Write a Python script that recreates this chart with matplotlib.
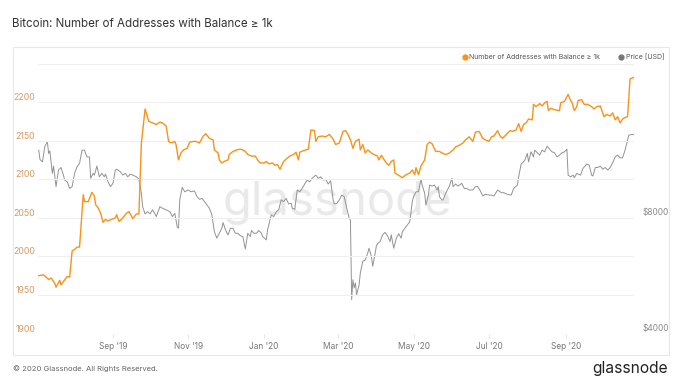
import pandas as pd
import matplotlib
matplotlib.use("Agg")
from matplotlib import pyplot as plt
import matplotlib.dates as mdates
from matplotlib.lines import Line2D
from matplotlib.patches import Rectangle
from matplotlib.ticker import FixedLocator, FuncFormatter, NullLocator

plt.rcParams['font.family'] = ['Inter', 'DejaVu Sans']

# addresses with balance >= 1k (left axis)
addr_dates = [
 '2019-07-03','2019-07-07','2019-07-11','2019-07-13','2019-07-16','2019-07-17','2019-07-20','2019-07-21','2019-07-26','2019-07-28','2019-07-30',
 '2019-08-01','2019-08-03','2019-08-05','2019-08-08','2019-08-09','2019-08-12','2019-08-15','2019-08-17','2019-08-18','2019-08-20','2019-08-22','2019-08-24','2019-08-26','2019-08-28','2019-08-31',
 '2019-09-03','2019-09-04','2019-09-06','2019-09-09','2019-09-12','2019-09-14','2019-09-17','2019-09-20','2019-09-22','2019-09-24','2019-09-27','2019-09-30',
 '2019-10-03','2019-10-06','2019-10-09','2019-10-11','2019-10-14','2019-10-16','2019-10-18','2019-10-21','2019-10-22','2019-10-24','2019-10-26','2019-10-28','2019-10-31',
 '2019-11-02','2019-11-05','2019-11-07','2019-11-10','2019-11-13','2019-11-15','2019-11-18','2019-11-21','2019-11-22','2019-11-25','2019-11-26','2019-11-28','2019-11-30',
 '2019-12-03','2019-12-04','2019-12-07','2019-12-10','2019-12-13','2019-12-15','2019-12-17','2019-12-19','2019-12-22','2019-12-25','2019-12-27','2019-12-29',
 '2020-01-01','2020-01-03','2020-01-05','2020-01-08','2020-01-10','2020-01-12','2020-01-14','2020-01-17','2020-01-19','2020-01-22','2020-01-25','2020-01-27','2020-01-29','2020-01-30',
 '2020-02-02','2020-02-04','2020-02-06','2020-02-08','2020-02-11','2020-02-12','2020-02-14','2020-02-17','2020-02-20','2020-02-23','2020-02-26','2020-02-28',
 '2020-03-02','2020-03-05','2020-03-07','2020-03-09','2020-03-11','2020-03-13','2020-03-15','2020-03-18','2020-03-19','2020-03-21','2020-03-23','2020-03-25','2020-03-28','2020-03-30',
 '2020-04-02','2020-04-03','2020-04-05','2020-04-07','2020-04-09','2020-04-11','2020-04-13','2020-04-15','2020-04-16','2020-04-18','2020-04-22','2020-04-25','2020-04-28','2020-04-30',
 '2020-05-02','2020-05-03','2020-05-05','2020-05-07','2020-05-10','2020-05-12','2020-05-14','2020-05-16','2020-05-19','2020-05-22','2020-05-24','2020-05-27','2020-05-30',
 '2020-06-02','2020-06-04','2020-06-07','2020-06-10','2020-06-12','2020-06-15','2020-06-18','2020-06-20','2020-06-23','2020-06-26','2020-06-28',
 '2020-07-01','2020-07-03','2020-07-05','2020-07-08','2020-07-10','2020-07-12','2020-07-15','2020-07-18','2020-07-20','2020-07-23','2020-07-25','2020-07-27','2020-07-29','2020-07-31',
 '2020-08-02','2020-08-05','2020-08-06','2020-08-08','2020-08-11','2020-08-13','2020-08-15','2020-08-17','2020-08-18','2020-08-20','2020-08-23','2020-08-27','2020-08-28','2020-08-31',
 '2020-09-03','2020-09-05','2020-09-06','2020-09-08','2020-09-10','2020-09-11','2020-09-14','2020-09-16','2020-09-19','2020-09-22','2020-09-24','2020-09-26','2020-09-29',
 '2020-10-02','2020-10-04','2020-10-07','2020-10-09','2020-10-11','2020-10-13','2020-10-15','2020-10-17','2020-10-19','2020-10-21','2020-10-22','2020-10-23','2020-10-26']
addr_values = [
 1975,1976,1970,1972,1965,1960,1969,1963,1974,1973,2007,
 2009,2012,2012,2080,2071,2071,2083,2078,2067,2063,2056,2044,2048,2046,2048,
 2050,2054,2045,2050,2056,2058,2049,2055,2055,2147,2191,2175,
 2173,2171,2174,2173,2169,2149,2147,2149,2145,2125,2134,2138,2140,
 2148,2149,2149,2147,2156,2159,2153,2151,2138,2134,2125,2121,2123,
 2125,2132,2136,2138,2139,2138,2136,2132,2130,2130,2125,2121,
 2121,2123,2120,2121,2118,2119,2113,2123,2126,2130,2132,2135,2125,2135,
 2137,2138,2139,2164,2163,2149,2155,2156,2155,2158,2152,2145,
 2147,2162,2163,2158,2151,2140,2149,2152,2138,2145,2134,2138,2134,2132,
 2130,2125,2131,2126,2121,2118,2123,2125,2108,2106,2102,2106,2108,2112,
 2106,2115,2106,2117,2125,2145,2148,2146,2136,2136,2134,2132,2134,
 2138,2142,2144,2147,2151,2155,2149,2161,2162,2153,2151,
 2149,2155,2156,2163,2156,2153,2158,2163,2162,2164,2172,2162,2171,2173,
 2178,2177,2197,2194,2198,2195,2199,2201,2189,2192,2190,2189,2199,2201,
 2210,2202,2200,2189,2194,2202,2203,2197,2197,2194,2191,2194,2195,
 2181,2184,2182,2186,2177,2181,2173,2178,2180,2181,2203,2230,2232]

# btc price in usd (right axis, log)
price_dates = [
 '2019-07-03','2019-07-04','2019-07-06','2019-07-08','2019-07-10','2019-07-11','2019-07-12','2019-07-14','2019-07-15','2019-07-17','2019-07-19','2019-07-21','2019-07-23','2019-07-24','2019-07-26','2019-07-28','2019-07-30',
 '2019-08-01','2019-08-03','2019-08-05','2019-08-07','2019-08-09','2019-08-11','2019-08-13','2019-08-14','2019-08-16','2019-08-17','2019-08-19','2019-08-21','2019-08-23','2019-08-25','2019-08-26','2019-08-28','2019-08-30',
 '2019-09-01','2019-09-03','2019-09-04','2019-09-07','2019-09-09','2019-09-11','2019-09-13','2019-09-15','2019-09-17','2019-09-20','2019-09-22','2019-09-24','2019-09-25','2019-09-27','2019-09-29',
 '2019-10-01','2019-10-03','2019-10-05','2019-10-06','2019-10-09','2019-10-11','2019-10-14','2019-10-17','2019-10-19','2019-10-21','2019-10-22','2019-10-23','2019-10-24','2019-10-25','2019-10-27','2019-10-29',
 '2019-11-01','2019-11-03','2019-11-06','2019-11-08','2019-11-10','2019-11-12','2019-11-15','2019-11-18','2019-11-20','2019-11-21','2019-11-22','2019-11-24','2019-11-26','2019-11-28','2019-11-29',
 '2019-12-01','2019-12-03','2019-12-05','2019-12-07','2019-12-09','2019-12-11','2019-12-13','2019-12-15','2019-12-17','2019-12-19','2019-12-21','2019-12-22','2019-12-24','2019-12-26','2019-12-28','2019-12-30','2019-12-31',
 '2020-01-03','2020-01-04','2020-01-05','2020-01-07','2020-01-09','2020-01-11','2020-01-13','2020-01-15','2020-01-17','2020-01-19','2020-01-21','2020-01-23','2020-01-24','2020-01-26','2020-01-28','2020-01-30',
 '2020-02-01','2020-02-03','2020-02-05','2020-02-07','2020-02-09','2020-02-12','2020-02-14','2020-02-16','2020-02-18','2020-02-20','2020-02-22','2020-02-24','2020-02-26','2020-02-27','2020-02-29',
 '2020-03-02','2020-03-04','2020-03-06','2020-03-08','2020-03-10','2020-03-11','2020-03-12','2020-03-13','2020-03-14','2020-03-15','2020-03-16','2020-03-18','2020-03-19','2020-03-21','2020-03-23','2020-03-25','2020-03-26','2020-03-28','2020-03-29','2020-03-31',
 '2020-04-01','2020-04-02','2020-04-04','2020-04-06','2020-04-08','2020-04-10','2020-04-12','2020-04-13','2020-04-15','2020-04-17','2020-04-19','2020-04-21','2020-04-22','2020-04-24','2020-04-26','2020-04-28','2020-04-30',
 '2020-05-01','2020-05-03','2020-05-05','2020-05-07','2020-05-08','2020-05-10','2020-05-11','2020-05-13','2020-05-14','2020-05-16','2020-05-18','2020-05-20','2020-05-21','2020-05-22','2020-05-24','2020-05-25','2020-05-27','2020-05-29','2020-05-30',
 '2020-06-01','2020-06-02','2020-06-04','2020-06-06','2020-06-09','2020-06-11','2020-06-13','2020-06-15','2020-06-18','2020-06-20','2020-06-22','2020-06-24','2020-06-26','2020-06-28',
 '2020-07-01','2020-07-03','2020-07-05','2020-07-08','2020-07-11','2020-07-13','2020-07-16','2020-07-19','2020-07-21','2020-07-24','2020-07-25','2020-07-27','2020-07-29','2020-07-30',
 '2020-08-01','2020-08-02','2020-08-04','2020-08-06','2020-08-07','2020-08-09','2020-08-11','2020-08-13','2020-08-15','2020-08-17','2020-08-19','2020-08-21','2020-08-23','2020-08-25','2020-08-27','2020-08-29','2020-08-31',
 '2020-09-02','2020-09-03','2020-09-05','2020-09-07','2020-09-08','2020-09-10','2020-09-13','2020-09-15','2020-09-18','2020-09-20','2020-09-22','2020-09-23','2020-09-25','2020-09-27','2020-09-29',
 '2020-10-01','2020-10-03','2020-10-05','2020-10-07','2020-10-09','2020-10-11','2020-10-13','2020-10-15','2020-10-17','2020-10-19','2020-10-21','2020-10-22','2020-10-24','2020-10-26']
price_values = [
 11930,11290,11130,12220,12540,11700,11880,10390,10850,9600,10600,10760,10280,9980,9880,9500,9600,
 10390,10810,11030,11930,11930,11460,11460,10090,10390,10280,10850,10180,10390,10180,10350,9880,9600,
 9790,10600,10650,10490,10280,10390,10180,10350,10280,10180,10030,9230,8520,8160,8270,
 8160,8360,8160,8030,8520,8440,8360,8270,8030,8190,7870,7540,7500,8870,9560,9310,
 9410,9310,9360,9040,8900,8950,8690,8440,8110,7720,7340,7060,7270,7490,7750,
 7420,7200,7490,7490,7270,7270,7160,7130,6620,7270,7130,7390,7270,7270,7390,7270,7130,
 6990,7420,7640,8110,8030,8270,8360,8870,8780,8950,8660,8690,8440,8390,9410,9310,
 9500,9750,9980,9880,10090,10280,10090,10180,9980,10030,9750,9940,8870,8660,8690,
 8870,9130,9040,8440,7950,7870,4900,5510,5250,5410,5040,5340,5740,6150,6200,6460,6650,6330,5970,6460,
 6750,6840,6920,7200,7310,7160,6920,7200,6650,7040,7250,7060,7340,7490,7640,7790,8780,
 9040,9310,9310,10030,9690,9230,8600,9130,9690,9630,9690,9410,9600,9040,8870,8870,9230,9500,9630,
 10090,9600,9750,9630,9790,9500,9500,9410,9410,9600,9600,9360,9080,9170,
 9130,9130,9080,9410,9260,9260,9170,9130,9500,9690,10180,10980,11130,11240,
 11700,11130,11810,11460,11930,11750,11580,11930,11810,12220,12000,11810,11750,11460,11580,11750,11810,
 12000,10280,10180,10280,10130,10390,10280,10700,10980,10920,10280,10230,10760,10760,10850,
 10650,10760,10600,10760,11070,11460,11580,11400,11400,11930,12660,13040,13100,13100]

left_ticks = [1900, 1950, 2000, 2050, 2100, 2150, 2200]
price_ticks = [4000, 8000]

orange = '#F7931A'
W, H = 680, 383

fig = plt.figure(figsize=(6.8, 3.83), dpi=100)
fig.patch.set_facecolor('white')

# outer frame
fig.patches.append(Rectangle((12.7 / W, 1 - 355 / H), (669 - 12.7) / W, (355 - 46.7) / H,
                             transform=fig.transFigure, fill=False, edgecolor='#e8e8e8', lw=0.8))

fig.text(12 / W, 1 - 24 / H, 'Bitcoin: Number of Addresses with Balance ≥ 1k',
         fontsize=8.3, color='#333333', va='center', ha='left')

# watermark
fig.text(337 / W, 1 - 203 / H, 'glassnode', fontsize=34, color='#e9e9e9', ha='center', va='center',
         zorder=-5)

ax = fig.add_axes([38 / W, 1 - 333.5 / H, 596 / W, 270 / H])
ax2 = ax.twinx()
ax.patch.set_visible(False)
ax2.patch.set_visible(False)

ad = pd.to_datetime(addr_dates)
pdts = pd.to_datetime(price_dates)

ax2.plot(pdts, price_values, color='#929292', lw=0.7)
ax.plot(ad, addr_values, color=orange, lw=1.0)
ax.set_zorder(ax2.get_zorder() + 1)

ax.set_xlim(pd.Timestamp('2019-07-02 10:00'), pd.Timestamp('2020-10-26 06:00'))
ax.set_ylim(1900, 2250)
ax2.set_yscale('log')
ax2.set_ylim(4000, 20000)

ax.yaxis.set_major_locator(FixedLocator(left_ticks + [2250]))
ax.yaxis.set_major_formatter(FuncFormatter(lambda v, p: '' if v > 2200 else f'{v:.0f}'))
ax.grid(axis='y', color='#efefef', lw=0.8)
ax.tick_params(axis='y', length=0, labelsize=6.3, labelcolor='#d69a5e', pad=2)
for lab in ax.get_yticklabels():
    lab.set_verticalalignment('bottom')

ax2.yaxis.set_major_locator(FixedLocator(price_ticks))
ax2.yaxis.set_minor_locator(NullLocator())
ax2.yaxis.set_major_formatter(FuncFormatter(lambda v, p: f'${v:.0f}'))
ax2.tick_params(axis='y', length=0, labelsize=6, labelcolor='#8a8a8a', pad=6)
for lab in ax2.get_yticklabels():
    lab.set_verticalalignment('bottom')

ax.xaxis.set_major_locator(mdates.MonthLocator(bymonth=[1, 3, 5, 7, 9, 11]))
ax.xaxis.set_major_formatter(mdates.DateFormatter("%b '%y"))
ax.tick_params(axis='x', length=3, color='#e6e6e6', labelsize=6, labelcolor='#777777', pad=3)

for a in (ax, ax2):
    for s in a.spines.values():
        s.set_visible(False)

handles = [Line2D([], [], marker='o', ls='', color=orange, markersize=3.5),
           Line2D([], [], marker='o', ls='', color='#777777', markersize=3.5)]
fig.legend(handles, ['Number of Addresses with Balance ≥ 1k', 'Price [USD]'],
           loc='center right', bbox_to_anchor=(664 / W, 1 - 57 / H), ncol=2, frameon=False,
           fontsize=5.0, labelcolor='#555555', handletextpad=0.1, columnspacing=2.6,
           handlelength=1.0, borderaxespad=0, borderpad=0)

fig.text(13 / W, 1 - 369 / H, '© 2020 Glassnode. All Rights Reserved.', fontsize=5.5,
         color='#666666', va='center', ha='left')
fig.text(668 / W, 1 - 369 / H, 'glassnode', fontsize=11.2, color='#222222', va='center', ha='right')

fig.savefig('out.png', dpi=100)
